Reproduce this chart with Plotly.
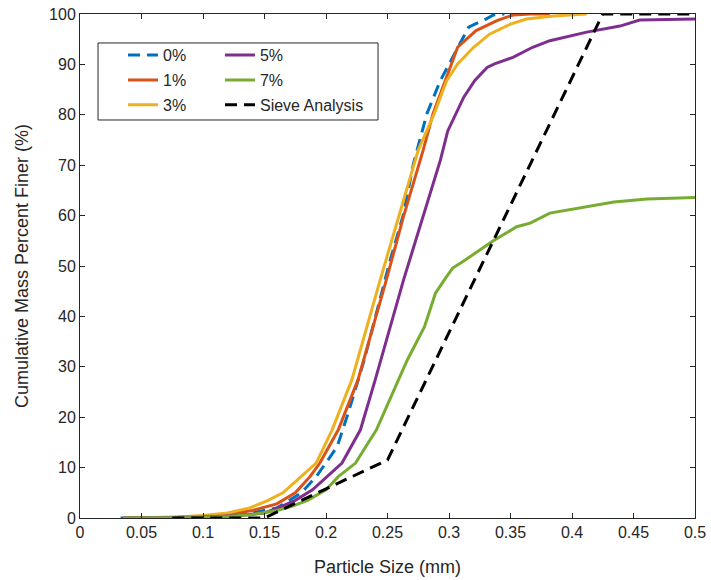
import plotly.graph_objects as go

# ---- data ----
x_0 = [0.033, 0.08, 0.10, 0.12, 0.14, 0.16, 0.18, 0.192, 0.209, 0.218, 0.231, 0.252, 0.263, 0.271, 0.282, 0.293, 0.307, 0.316, 0.330, 0.336, 0.345]
y_0 = [0.0, 0.1, 0.2, 0.5, 1.0, 2.0, 5.0, 8.2, 14.1, 20.8, 31.3, 51.0, 60.3, 70.2, 80.2, 86.8, 93.4, 97.4, 99.0, 99.8, 100.0]

x_1 = [0.035, 0.08, 0.10, 0.12, 0.14, 0.16, 0.175, 0.187, 0.195, 0.210, 0.226, 0.249, 0.263, 0.279, 0.287, 0.297, 0.307, 0.322, 0.339, 0.352, 0.366, 0.382]
y_1 = [0.0, 0.1, 0.3, 0.7, 1.5, 2.8, 5.0, 8.2, 10.9, 17.5, 27.4, 47.2, 59.8, 73.0, 80.2, 86.8, 93.4, 96.7, 98.7, 99.8, 100.0, 100.0]

x_3 = [0.035, 0.08, 0.10, 0.12, 0.138, 0.152, 0.165, 0.180, 0.192, 0.205, 0.221, 0.244, 0.259, 0.275, 0.288, 0.298, 0.307, 0.320, 0.333, 0.350, 0.363, 0.385, 0.412]
y_3 = [0.0, 0.2, 0.5, 1.0, 2.0, 3.4, 5.0, 8.2, 10.9, 17.5, 27.4, 47.2, 59.8, 73.0, 80.2, 86.7, 90.1, 93.4, 96.0, 98.0, 99.0, 99.6, 100.0]

x_5 = [0.035, 0.10, 0.13, 0.15, 0.163, 0.175, 0.189, 0.201, 0.213, 0.228, 0.240, 0.263, 0.279, 0.293, 0.299, 0.312, 0.321, 0.331, 0.337, 0.352, 0.368, 0.382, 0.412, 0.439, 0.455, 0.500]
y_5 = [0.0, 0.2, 0.5, 1.0, 2.2, 3.5, 5.6, 8.2, 10.9, 17.5, 27.4, 47.2, 59.8, 71.0, 76.8, 83.5, 86.8, 89.4, 90.1, 91.4, 93.4, 94.7, 96.4, 97.6, 98.8, 99.0]

x_7 = [0.035, 0.10, 0.12, 0.14, 0.16, 0.171, 0.185, 0.200, 0.210, 0.224, 0.241, 0.259, 0.266, 0.280, 0.289, 0.298, 0.303, 0.312, 0.328, 0.336, 0.355, 0.366, 0.382, 0.412, 0.434, 0.461, 0.500]
y_7 = [0.0, 0.1, 0.3, 0.7, 1.5, 2.2, 3.5, 5.6, 8.2, 10.9, 17.5, 27.4, 31.3, 37.9, 44.6, 47.9, 49.6, 51.0, 53.6, 55.0, 57.8, 58.5, 60.5, 61.7, 62.7, 63.3, 63.6]

x_sieve = [0.075, 0.106, 0.15, 0.18, 0.25, 0.425, 0.5]
y_sieve = [0.0, 0.0, 0.0, 3.5, 11.5, 100.0, 100.0]

names = ["0%", "1%", "3%", "5%", "7%", "Sieve Analysis"]
xs = [x_0, x_1, x_3, x_5, x_7, x_sieve]
ys = [y_0, y_1, y_3, y_5, y_7, y_sieve]
colors = ["#0072BD", "#D95319", "#EDB120", "#7E2F8E", "#77AC30", "#000000"]
dashes = ["12px,7px", "solid", "solid", "solid", "solid", "12px,7px"]
legends = ["legend", "legend", "legend", "legend2", "legend2", "legend2"]

fig = go.Figure()
for i in range(len(names)):
    fig.add_trace(go.Scatter(
        x=xs[i], y=ys[i], mode="lines", name=names[i],
        line=dict(color=colors[i], width=3, dash=dashes[i]),
        legend=legends[i], legendgroup=names[i],
    ))

FONT = "Liberation Sans, Arial, sans-serif"
axcol = "#262626"
axis_common = dict(
    showline=True, linecolor=axcol, linewidth=1, mirror="ticks",
    ticks="inside", ticklen=5, tickcolor=axcol, showgrid=False, zeroline=False,
    tickfont=dict(family=FONT, size=16, color=axcol), automargin=False,
)

leg_common = dict(xanchor="left", yanchor="top", bgcolor="rgba(0,0,0,0)",
                  font=dict(family=FONT, size=16, color=axcol), traceorder="grouped",
                  tracegroupgap=1)

fig.update_layout(
    width=711, height=580,
    margin=dict(l=80, r=16, t=14, b=62),
    paper_bgcolor="white", plot_bgcolor="white",
    font=dict(family=FONT, color=axcol),
    xaxis=dict(range=[0, 0.5], dtick=0.05, tick0=0,
               title=dict(text="Particle Size (mm)", font=dict(size=18, color=axcol), standoff=20),
               **axis_common),
    yaxis=dict(range=[0, 100], dtick=10, tick0=0,
               title=dict(text="Cumulative Mass Percent Finer (%)", font=dict(size=18, color=axcol), standoff=15),
               **axis_common),
    legend=dict(x=0.0699, y=0.952, **leg_common),
    legend2=dict(x=0.2276, y=0.952, **leg_common),
    shapes=[dict(type="rect", xref="paper", yref="paper",
                 x0=0.0293, x1=0.4846, y0=0.7897, y1=0.9425,
                 line=dict(color=axcol, width=1), fillcolor="white", layer="below")],
)

fig.write_html("out.html")
